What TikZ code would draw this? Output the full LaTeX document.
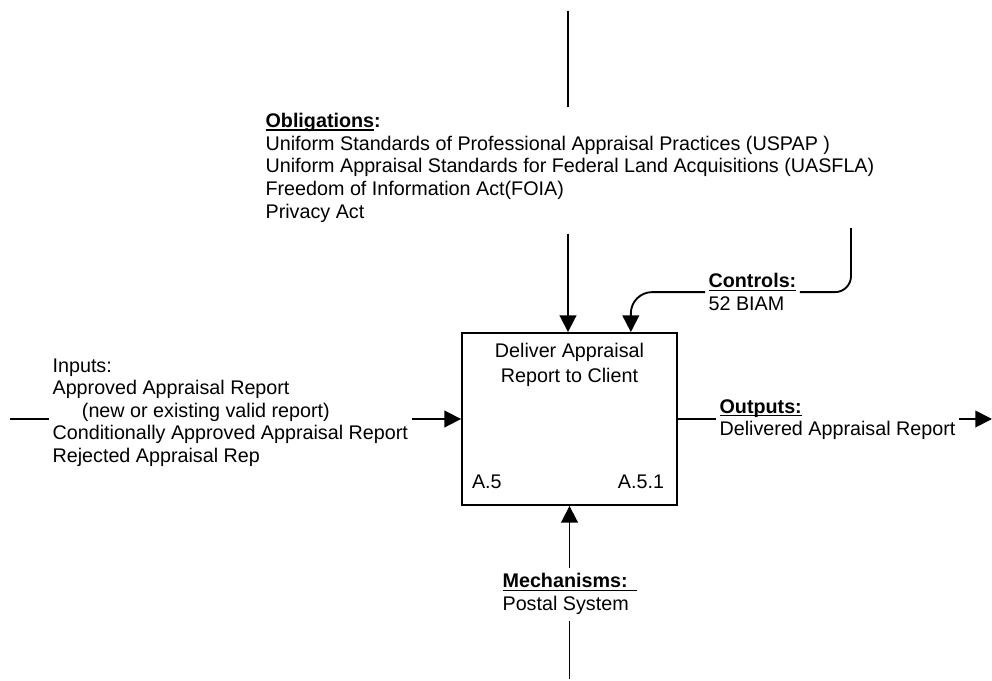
\documentclass[tikz,border=0pt]{standalone}
\usepackage{fontspec}
\setmainfont{Liberation Sans}
\usetikzlibrary{
  arrows.meta,
  positioning
}
\newsavebox{\ulsave}
\newcommand{\ulbox}[1]{\sbox{\ulsave}{#1}\rlap{\rule[-2.2pt]{\wd\ulsave}{1pt}}\usebox{\ulsave}}

\begin{document}
\begin{tikzpicture}[
    x=0.75pt,
    y=-0.75pt,
    font=\fontsize{14.8}{16.9}\selectfont,
    line width=1.4pt,
    lbl/.style={align=left, inner sep=2pt, anchor=north west},
    arr/.style={-{Triangle[length=12.5pt,width=12.5pt]}},
  ]
  \useasboundingbox (0,0) rectangle (992,681);

  \node[draw, minimum width=161.25pt, minimum height=129pt, inner sep=0] (box) at (569.5,419) {};
  \node[align=center, inner sep=2pt, anchor=north, font=\fontsize{14.8}{18.75}\selectfont]
    (title) at ([yshift=-6pt]box.north) {Deliver Appraisal\\Report to Client};
  \node[anchor=base west, inner sep=0] (nodeid) at ([xshift=7.5pt,yshift=12.75pt]box.south west) {A.5};
  \node[anchor=base east, inner sep=0] (nodeno) at ([xshift=-9.75pt,yshift=12.75pt]box.south east) {A.5.1};

  \node[lbl] (oblig) at (262,110) {\ulbox{\textbf{Obligations}}\textbf{:}\\
    Uniform Standards of Professional Appraisal Practices (USPAP )\\
    Uniform Appraisal Standards for Federal Land Acquisitions (UASFLA)\\
    Freedom of Information Act(FOIA)\\
    Privacy Act};
  \node[lbl] (controls) at (705,270) {\ulbox{\textbf{Controls:}}\\52 BIAM};
  \node[lbl] (inputs) at (49,355) {Inputs:\\
    Approved Appraisal Report\\
    \hspace*{22pt}(new or existing valid report)\\
    Conditionally Approved Appraisal Report\\
    Rejected Appraisal Rep};
  \node[lbl] (outputs) at (716,396) {\ulbox{\textbf{Outputs:}}\\Delivered Appraisal Report};
  \node[lbl] (mech) at (499,570) {\ulbox{\textbf{Mechanisms:}\hspace*{7pt}}\\Postal System};

  \coordinate (ctop) at (568,11);
  \coordinate (cin) at (851,228);
  \coordinate (cbox) at ([xshift=46pt]box.north);
  \coordinate (inl) at (10,419);
  \coordinate (outr) at (992,419);
  \coordinate (mbot) at (569.5,679);

  \draw (ctop) -- ([yshift=2.25pt]ctop |- oblig.north);
  \draw[arr] ([yshift=-6pt]ctop |- oblig.south) -- (ctop |- box.north);
  \draw[rounded corners=12pt] (cin) -- (cin |- controls.east) -- (controls.east);
  \draw[arr, rounded corners=16pt] (controls.west) -- (cbox |- controls.west) -- (cbox);
  \draw (inl) -- (inl -| inputs.west);
  \draw[arr] (inputs.east |- box.west) -- (box.west);
  \draw (box.east) -- (box.east -| outputs.west);
  \draw[arr] (box.east -| outputs.east) -- (outr);
  \draw[arr] ([yshift=1.5pt]box.south |- mech.north) -- (box.south);
  \draw (mbot) -- ([yshift=-2pt]mbot |- mech.south);
\end{tikzpicture}
\end{document}
